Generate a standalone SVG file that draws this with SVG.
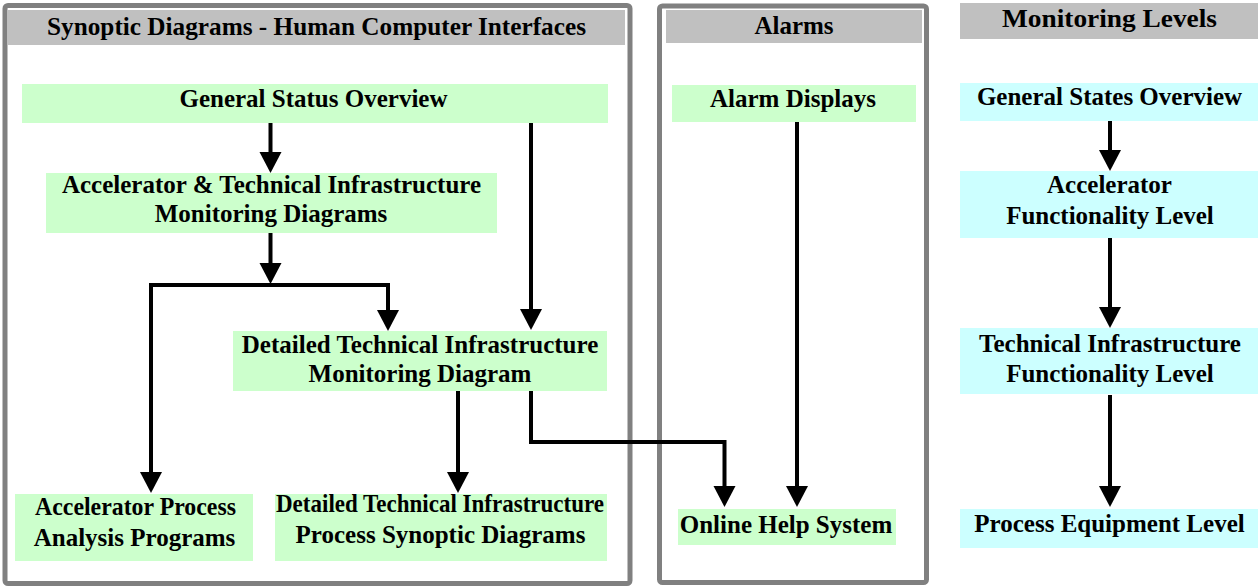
<svg xmlns="http://www.w3.org/2000/svg" width="1258" height="587" viewBox="0 0 1258 587">
<style>
text{font-family:"Liberation Serif","Times New Roman",serif;font-weight:bold;font-size:25px;fill:#000;text-anchor:middle}
.panel{fill:#fff;stroke:#808080;stroke-width:5}
.hdr{fill:#c0c0c0}
.g{fill:#ccffcc}
.c{fill:#ccffff}
.cn{fill:none;stroke:#000;stroke-width:4;stroke-linejoin:miter}
.ar{marker-end:url(#ah)}
</style>
<defs>
<marker id="ah" markerUnits="userSpaceOnUse" markerWidth="22" markerHeight="24" refX="0" refY="12" orient="auto" overflow="visible">
<path d="M0,1 L21,12 L0,23 z" fill="#000"/>
</marker>
</defs>
<rect width="1258" height="587" fill="#fff"/>
<g id="panel-synoptic">
<rect class="panel" x="5" y="5.5" width="625" height="578" rx="3"/>
<rect class="hdr" x="8" y="10" width="617" height="35"/>
<text x="316.5" y="35" font-size="22" textLength="539" lengthAdjust="spacingAndGlyphs">Synoptic Diagrams - Human Computer Interfaces</text>
</g>
<g id="panel-alarms">
<rect class="panel" x="659.5" y="6" width="267" height="576.5" rx="3"/>
<rect class="hdr" x="666" y="10" width="256" height="33"/>
<text x="794" y="34">Alarms</text>
</g>
<g id="panel-levels">
<rect class="hdr" x="960" y="3" width="298" height="36"/>
<text x="1109.5" y="27" font-size="27" textLength="215" lengthAdjust="spacingAndGlyphs">Monitoring Levels</text>
</g>
<g id="connectors">
<path class="cn ar" d="M270.5,123 V152"/>
<path class="cn ar" d="M270.5,233 V263"/>
<path class="cn" d="M151,285 H388"/>
<path class="cn ar" d="M388,283 V310"/>
<path class="cn ar" d="M151,283 V472"/>
<path class="cn ar" d="M531,123 V309"/>
<path class="cn ar" d="M458,391 V472"/>
<path class="cn ar" d="M531,391 V442 H724.5 V486"/>
<path class="cn ar" d="M797,122 V486"/>
<path class="cn ar" d="M1110,121 V150"/>
<path class="cn ar" d="M1110,238 V307"/>
<path class="cn ar" d="M1110,395 V486"/>
</g>
<g id="general-status-overview">
<rect class="g" x="22" y="84" width="586" height="39"/>
<text x="313.5" y="107">General Status Overview</text>
</g>
<g id="accelerator-technical-monitoring">
<rect class="g" x="46" y="173" width="451" height="60"/>
<text x="271.5" y="193">Accelerator &amp; Technical Infrastructure</text>
<text x="271" y="222">Monitoring Diagrams</text>
</g>
<g id="detailed-monitoring">
<rect class="g" x="233" y="331" width="374" height="60"/>
<text x="420" y="353">Detailed Technical Infrastructure</text>
<text x="420" y="382">Monitoring Diagram</text>
</g>
<g id="accelerator-process-analysis">
<rect class="g" x="15" y="494" width="238" height="67"/>
<text x="135.5" y="515" textLength="201" lengthAdjust="spacingAndGlyphs">Accelerator Process</text>
<text x="134.5" y="546">Analysis Programs</text>
</g>
<g id="detailed-process-synoptic">
<rect class="g" x="275" y="494" width="332" height="67"/>
<text x="440" y="512" font-size="23" textLength="328" lengthAdjust="spacingAndGlyphs">Detailed Technical Infrastructure</text>
<text x="440.5" y="543">Process Synoptic Diagrams</text>
</g>
<g id="alarm-displays">
<rect class="g" x="672" y="85" width="244" height="37"/>
<text x="793" y="107">Alarm Displays</text>
</g>
<g id="online-help">
<rect class="g" x="678" y="509" width="218" height="36"/>
<text x="786" y="533">Online Help System</text>
</g>
<g id="general-states-overview">
<rect class="c" x="960" y="83" width="298" height="38"/>
<text x="1109.5" y="105">General States Overview</text>
</g>
<g id="accelerator-functionality">
<rect class="c" x="960" y="171" width="298" height="67"/>
<text x="1109.5" y="193">Accelerator</text>
<text x="1110" y="224">Functionality Level</text>
</g>
<g id="technical-functionality">
<rect class="c" x="960" y="328" width="298" height="66"/>
<text x="1110" y="352">Technical Infrastructure</text>
<text x="1110" y="382">Functionality Level</text>
</g>
<g id="process-equipment">
<rect class="c" x="960" y="509" width="298" height="39"/>
<text x="1109.5" y="532">Process Equipment Level</text>
</g>
</svg>
